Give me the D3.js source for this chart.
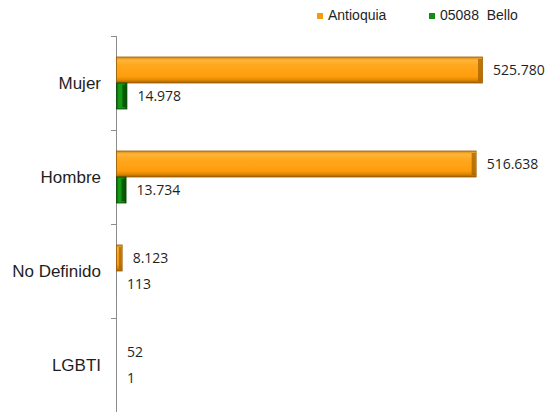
<!DOCTYPE html>
<html>
<head>
<meta charset="utf-8">
<script src="https://cdnjs.cloudflare.com/ajax/libs/d3/7.8.5/d3.min.js"></script>
<style>
  body { margin: 0; background: #fff; }
  svg { display: block; }
</style>
</head>
<body>
<svg width="551" height="412"></svg>
<script>
// datos
var categorias = ["Mujer", "Hombre", "No Definido", "LGBTI"];
var series = ["Antioquia", "05088  Bello"];
var antioquia = [525780, 516638, 8123, 52];
var bello = [14978, 13734, 113, 1];
var etiquetasAntioquia = ["525.780", "516.638", "8.123", "52"];
var etiquetasBello = ["14.978", "13.734", "113", "1"];

var svg = d3.select("svg");
var defs = svg.append("defs");

// gradientes con efecto biselado
function addGrad(id, stops) {
  var g = defs.append("linearGradient").attr("id", id)
    .attr("x1", "0%").attr("x2", "0%").attr("y1", "0%").attr("y2", "100%");
  stops.forEach(function(s) {
    g.append("stop").attr("offset", s[0]).style("stop-color", s[1]);
  });
}
addGrad("grad_orange", [["0%", "#D98A10"], ["12%", "#FFB53A"], ["30%", "#FFA820"], ["75%", "#FF9D0C"], ["88%", "#E48A00"], ["100%", "#9C5E00"]]);
var gh = defs.append("linearGradient").attr("id", "grad_green_h")
  .attr("x1", "0%").attr("x2", "100%").attr("y1", "0%").attr("y2", "0%");
gh.append("stop").attr("offset", "0%").style("stop-color", "#0B5F0B");
gh.append("stop").attr("offset", "25%").style("stop-color", "#15A015");
gh.append("stop").attr("offset", "70%").style("stop-color", "#0E8E0E");
gh.append("stop").attr("offset", "100%").style("stop-color", "#064A06");

var x = d3.scaleLinear().domain([0, 525780]).range([116, 482]);
var y = d3.scaleBand().domain(categorias).range([36, 412]).paddingInner(0);
var ySub = d3.scaleBand().domain(series).range([21, 73]);

// eje vertical
svg.append("line")
  .attr("x1", 116.5).attr("x2", 116.5).attr("y1", 36).attr("y2", 412)
  .style("stroke", "#8C8C8C").style("stroke-width", 1);
var ticks = categorias.map(function(c) { return y(c); });
svg.selectAll(".tick").data(ticks).enter().append("line")
  .attr("x1", 111).attr("x2", 116)
  .attr("y1", function(d) { return Math.round(d) + 0.5; })
  .attr("y2", function(d) { return Math.round(d) + 0.5; })
  .style("stroke", "#8C8C8C");

// etiquetas de categoria
svg.selectAll(".cat").data(categorias).enter().append("text")
  .attr("x", 101)
  .attr("y", function(d) { return y(d) + y.bandwidth() / 2; })
  .attr("dy", "0.36em")
  .attr("text-anchor", "end")
  .style("font-family", "Liberation Sans, Arial, sans-serif")
  .style("font-size", "17px")
  .style("fill", "#1F1F1F")
  .text(function(d) { return d; });

function drawSeries(values, labels, serie, fill, edge) {
  var g = svg.append("g");
  var rows = categorias.map(function(c, i) { return { c: c, v: values[i], l: labels[i] }; });
  g.selectAll("rect.bar").data(rows).enter().append("rect")
    .attr("x", x(0) + 0.5)
    .attr("y", function(d) { return y(d.c) + ySub(serie); })
    .attr("width", function(d) { return Math.max(0, x(d.v) - x(0)); })
    .attr("height", ySub.bandwidth())
    .style("fill", fill)
    .style("stroke", edge)
    .style("stroke-width", function(d) { return x(d.v) - x(0) > 2 ? 0.8 : 0; });
  // borde derecho oscuro
  g.selectAll("rect.end").data(rows.filter(function(d) { return x(d.v) - x(0) > 3; }))
    .enter().append("rect")
    .attr("x", function(d) { var w = x(d.v) - x(0); return x(d.v) - Math.min(4, w / 2); })
    .attr("y", function(d) { return y(d.c) + ySub(serie) + 2; })
    .attr("width", function(d) { var w = x(d.v) - x(0); return Math.min(4, w / 2); })
    .attr("height", ySub.bandwidth() - 4)
    .style("fill", edge).style("opacity", 0.7);
  g.selectAll("text").data(rows).enter().append("text")
    .attr("x", function(d) { return x(d.v) + 11; })
    .attr("y", function(d) { return y(d.c) + ySub(serie) + ySub.bandwidth() / 2; })
    .attr("dy", "0.36em")
    .style("font-family", "Open Sans, sans-serif")
    .style("font-size", "14px")
    .style("fill", "#1F1F1F")
    .text(function(d) { return d.l; });
}
drawSeries(antioquia, etiquetasAntioquia, series[0], "url(#grad_orange)", "#9C5E00");
drawSeries(bello, etiquetasBello, series[1], "url(#grad_green_h)", "#064A06");

// leyenda
var legend = [
  { name: series[0], color: "#F59A10", x: 317 },
  { name: series[1], color: "#138A13", x: 429 }
];
var lg = svg.selectAll(".leg").data(legend).enter().append("g");
lg.append("rect")
  .attr("x", function(d) { return d.x; }).attr("y", 13)
  .attr("width", 6).attr("height", 6)
  .style("fill", function(d) { return d.color; });
lg.append("text")
  .attr("x", function(d) { return d.x + 11; }).attr("y", 20)
  .style("font-family", "Liberation Sans, Arial, sans-serif")
  .style("font-size", "14px")
  .style("fill", "#1F1F1F")
  .style("white-space", "pre")
  .attr("xml:space", "preserve")
  .text(function(d) { return d.name; });
</script>
</body>
</html>
